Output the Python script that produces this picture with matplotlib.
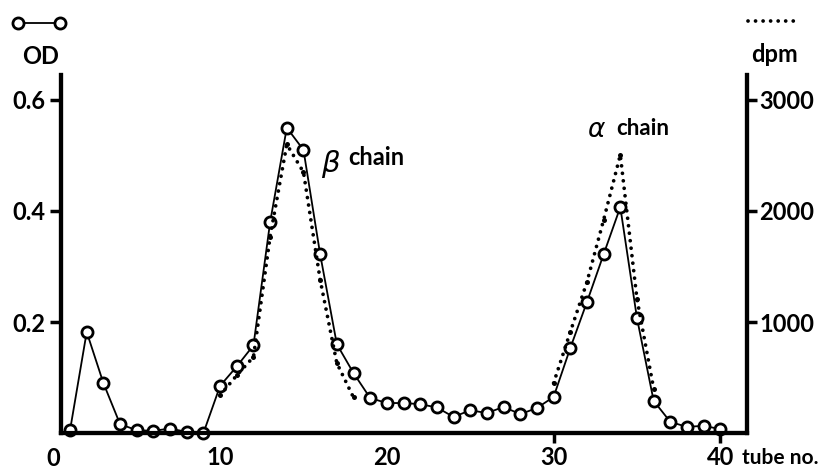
import matplotlib
matplotlib.use("Agg")
import matplotlib.pyplot as plt
from matplotlib.lines import Line2D

# --- data -------------------------------------------------------------------
tubes = list(range(1, 41))
od = [0.005, 0.182, 0.090, 0.016, 0.005, 0.004, 0.008, 0.002, 0.000, 0.085,
      0.120, 0.158, 0.380, 0.550, 0.510, 0.322, 0.160, 0.108, 0.063, 0.054,
      0.054, 0.052, 0.046, 0.029, 0.041, 0.036, 0.047, 0.034, 0.045, 0.065,
      0.153, 0.236, 0.322, 0.407, 0.207, 0.058, 0.020, 0.011, 0.013, 0.007]

beta_tubes = [10, 11, 12, 13, 14, 15, 16, 17, 18]
beta_dpm = [340, 520, 685, 1770, 2600, 2350, 1380, 630, 320]
alpha_tubes = [30, 31, 32, 33, 34, 35, 36]
alpha_dpm = [450, 910, 1360, 1920, 2505, 1207, 400]

x_ticks = [10, 20, 30, 40]
od_ticks = [0.2, 0.4, 0.6]
dpm_ticks = [1000, 2000, 3000]

plt.rcParams["font.family"] = ["Lato", "DejaVu Sans"]
plt.rcParams["font.weight"] = "bold"

fig = plt.figure(figsize=(8.27, 4.70), dpi=100)
ax = fig.add_axes([0.0738, 0.0787, 0.8295, 0.7617])
ax2 = ax.twinx()

# OD trace: open circles joined by a thin solid line
ax.plot(tubes, od, color="black", lw=1.3, marker="o", ms=8,
        mfc="white", mec="black", mew=2.0, zorder=5, clip_on=False)

# dpm trace: dotted
dot_style = dict(color="black", lw=2.7, ls=(0, (0.01, 2.0)),
                 dash_capstyle="round", marker="o", ms=3.6, mew=0)
ax2.plot(beta_tubes, beta_dpm, **dot_style)
ax2.plot(alpha_tubes, alpha_dpm, **dot_style)

ax.set_xlim(0.46, 41.6)
ax.set_ylim(0, 0.645)
ax2.set_ylim(0, 0.645 * 5000)

for a in (ax, ax2):
    a.spines["top"].set_visible(False)
    for s in ("left", "bottom", "right"):
        a.spines[s].set_linewidth(3)

ax.set_xticks(x_ticks)
ax.set_yticks(od_ticks)
ax.set_yticklabels(["0.2", "0.4", "0.6"])
ax2.set_yticks(dpm_ticks)
ax2.set_yticklabels([str(v) for v in dpm_ticks])

ax.tick_params(axis="y", length=8, width=2.5, pad=3, labelsize=17)
ax.tick_params(axis="x", length=7, width=2.5, pad=2, labelsize=17)
ax2.tick_params(axis="y", length=7, width=2.5, pad=2, labelsize=17)
# only 30 and 40 carry tick marks in the original
for t in ax.xaxis.get_major_ticks()[:2]:
    t.tick1line.set_visible(False)

# the "0" sits left of the axis start
ax.text(0, -0.025, "0", ha="center", va="top", fontsize=17, clip_on=False)
ax.text(41.3, -0.027, "tube no.", ha="left", va="top", fontsize=15,
        clip_on=False)

# peak labels
ax.text(16.6, 0.485, "β", fontsize=21, fontweight="normal", style="italic",
        family="DejaVu Sans", ha="center", va="center")
ax.text(19.35, 0.497, "chain", fontsize=17, ha="center", va="center")
ax.text(32.55, 0.546, "α", fontsize=19, fontweight="normal", style="italic",
        family="DejaVu Sans", ha="center", va="center")
ax.text(35.37, 0.548, "chain", fontsize=16, ha="center", va="center")

# key symbols above the axes
fig.add_artist(Line2D([0.0218, 0.0726], [0.951, 0.951], color="black", lw=1.3,
                      marker="o", ms=8, mfc="white", mec="black", mew=2.0,
                      transform=fig.transFigure))
fig.text(0.0496, 0.879, "OD", ha="center", va="center", fontsize=17)
fig.add_artist(Line2D([0.9045, 0.9625], [0.955, 0.955], color="black", lw=2.7,
                      ls=(0, (0.01, 2.0)), dash_capstyle="round",
                      transform=fig.transFigure))
fig.text(0.936, 0.883, "dpm", ha="center", va="center", fontsize=17)

fig.savefig("out.png", dpi=100)
